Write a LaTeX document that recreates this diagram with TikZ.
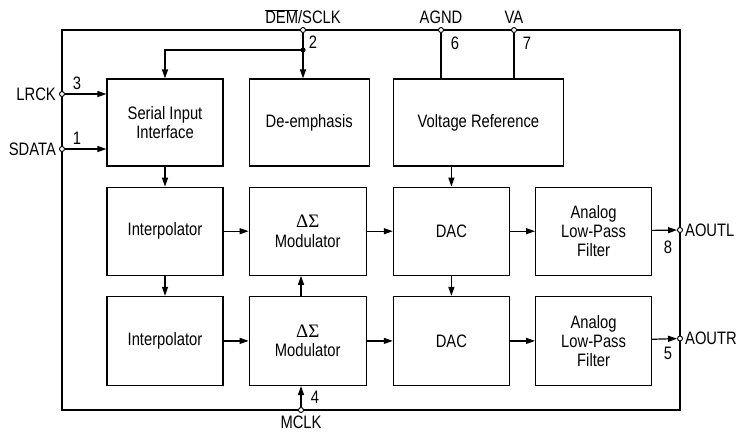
\documentclass[tikz,border=0pt]{standalone}
\usepackage{fontspec}
\setmainfont[FakeStretch=0.82]{Liberation Sans}
\newfontfamily\grkfont{Liberation Serif}
\usetikzlibrary{arrows.meta,positioning}

\begin{document}
\begin{tikzpicture}[x=1pt,y=-1pt]
\tikzstyle{blk}=[draw,line width=1.2pt,align=center,inner sep=0pt,font=\fontsize{18}{18.7}\selectfont]
\tikzstyle{pin}=[circle,draw,fill=white,line width=0.9pt,inner sep=0pt,minimum size=5pt]
\tikzstyle{sig}=[line width=1.2pt,-{Triangle[length=9pt,width=6pt]}]
\tikzstyle{wire}=[line width=1.2pt]
\tikzstyle{lbl}=[font=\fontsize{18}{18}\selectfont,inner sep=1pt]
\newcommand{\dsig}{{\grkfont\fontsize{19}{20}\selectfont ΔΣ}}
\useasboundingbox (0,0) rectangle (736,437);
% outer frame
\draw [line width=2pt] (62,30) rectangle (680,410);
% top row
\node [blk,minimum width=116pt,minimum height=87pt] (sip) at (165,122.5) {Serial Input\\Interface};
\node [blk,minimum width=120pt,minimum height=87pt,right=25pt of sip] (demph) {De-emphasis};
\node [blk,minimum width=170pt,minimum height=87pt,right=23pt of demph] (vref) {Voltage Reference};
% left channel
\node [blk,minimum width=116pt,minimum height=88pt,below=20pt of sip] (intA) {Interpolator};
\node [blk,minimum width=117pt,minimum height=88pt,right=25pt of intA] (modA) {\dsig\\[1pt]Modulator};
\node [blk,minimum width=116pt,minimum height=88pt,right=26pt of modA] (dacA) {DAC};
\node [blk,minimum width=116pt,minimum height=88pt,right=25pt of dacA] (lpfA) {Analog\\Low-Pass\\Filter};
% right channel
\node [blk,minimum width=116pt,minimum height=89pt,below=20pt of intA] (intB) {Interpolator};
\node [blk,minimum width=117pt,minimum height=89pt,right=25pt of intB] (modB) {\dsig\\[1pt]Modulator};
\node [blk,minimum width=116pt,minimum height=89pt,right=26pt of modB] (dacB) {DAC};
\node [blk,minimum width=116pt,minimum height=89pt,right=25pt of dacB] (lpfB) {Analog\\Low-Pass\\Filter};
% pins
\node [pin] (pSCLK) at (303,30) {};
\node [pin] (pLRCK) at (62,94) {};
\node [pin] (pSDATA) at (62,149) {};
\node [pin] (pAGND) at (441,30) {};
\node [pin] (pVA) at (514,30) {};
\node [pin] (pMCLK) at (301,410) {};
\node [pin] (pAOUTL) at (680,230) {};
\node [pin] (pAOUTR) at (680,338.5) {};
\coordinate (br) at (303,50);
% connectors
\draw [wire] (pSCLK) -- (br);
\draw [sig] (br) -- (br |- demph.north);
\draw [sig] (br) -| (sip.north);
\fill (br) circle (2.6pt);
\draw [sig] (pLRCK) -- (pLRCK -| sip.west);
\draw [sig] (pSDATA) -- (pSDATA -| sip.west);
\draw [wire] (pAGND) -- (pAGND |- vref.north);
\draw [wire] (pVA) -- (pVA |- vref.north);
\draw [sig] (sip) -- (intA);
\draw [sig] (intA) -- (intB);
\draw [sig] (vref.south -| dacA.north) -- (dacA.north);
\draw [sig] (dacA) -- (dacB);
\draw [sig] (intA) -- (modA);
\draw [sig] (modA) -- (dacA);
\draw [sig] (dacA) -- (lpfA);
\draw [sig] (lpfA) -- (pAOUTL);
\draw [sig] (intB) -- (modB);
\draw [sig] (modB) -- (dacB);
\draw [sig] (dacB) -- (lpfB);
\draw [sig] (lpfB) -- (pAOUTR);
\draw [sig] (pMCLK) -- (pMCLK |- modB.south);
\draw [sig] (pMCLK |- modB.north) -- (pMCLK |- modA.south);
% pin names and numbers
\node [lbl,above=2pt of pSCLK] {$\overline{\mbox{DEM}}$/SCLK};
\node [lbl,above=2pt of pAGND] {AGND};
\node [lbl,above=2pt of pVA] {VA};
\node [lbl,left=2pt of pLRCK] {LRCK};
\node [lbl,left=2pt of pSDATA] {SDATA};
\node [lbl,below=2pt of pMCLK] {MCLK};
\node [lbl,right=1pt of pAOUTL] {AOUTL};
\node [lbl,right=1pt of pAOUTR] {AOUTR};
\node [lbl] at (313,42) {2};
\node [lbl] at (77,83) {3};
\node [lbl] at (77,138) {1};
\node [lbl] at (455,43) {6};
\node [lbl] at (527,43) {7};
\node [lbl] at (668,247) {8};
\node [lbl] at (668,353) {5};
\node [lbl] at (315,397) {4};
\end{tikzpicture}
\end{document}
